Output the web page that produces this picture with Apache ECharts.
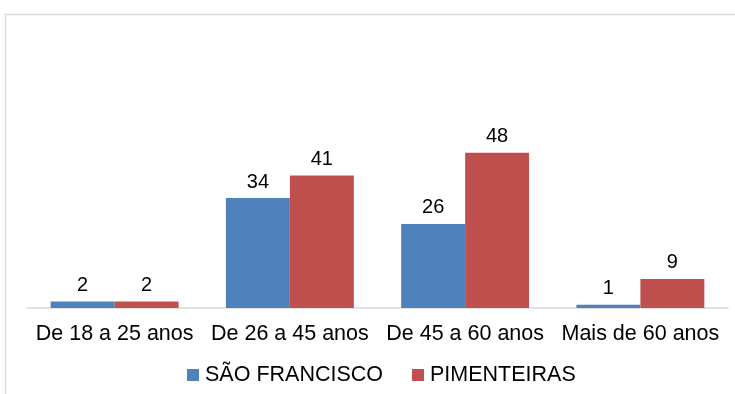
<!DOCTYPE html>
<html>
<head>
<meta charset="utf-8">
<script src="https://cdn.jsdelivr.net/npm/echarts@6/dist/echarts.min.js"></script>
<style>
  html, body { margin: 0; padding: 0; background: #fff; }
  #chart { width: 735px; height: 394px; }
</style>
</head>
<body>
<div id="chart"></div>
<script>
var categories = ['De 18 a 25 anos', 'De 26 a 45 anos', 'De 45 a 60 anos', 'Mais de 60 anos'];
var saoFrancisco = [2, 34, 26, 1];
var pimenteiras = [2, 41, 48, 9];

var myChart = echarts.init(document.getElementById('chart'));

var labelStyle = {
  show: true,
  position: 'top',
  distance: 6,
  color: '#000',
  fontSize: 20,
  fontFamily: 'Liberation Sans, Arial'
};

var option = {
  animation: false,
  // moldura cinza do gráfico
  graphic: [{
    type: 'rect',
    shape: { x: 5.5, y: 14.5, width: 800, height: 500 },
    style: { fill: 'none', stroke: '#d9d9d9', lineWidth: 1.5 },
    silent: true
  }],
  grid: {
    left: 27,
    right: 7,
    top: 114,
    bottom: 86
  },
  legend: {
    bottom: 3,
    left: 182,
    itemWidth: 12,
    itemHeight: 12,
    itemGap: 29,
    icon: 'rect',
    textStyle: { color: '#000', fontSize: 21.5, fontFamily: 'Liberation Sans, Arial', padding: [0, 0, 0, 1] },
    data: ['SÃO FRANCISCO', 'PIMENTEIRAS']
  },
  xAxis: {
    type: 'category',
    data: categories,
    axisTick: { show: false },
    axisLine: { lineStyle: { color: '#d9d9d9', width: 1.5 } },
    axisLabel: {
      interval: 0,
      color: '#000',
      fontSize: 21.5,
      margin: 15,
      fontFamily: 'Liberation Sans, Arial'
    }
  },
  yAxis: {
    type: 'value',
    min: 0,
    max: 60,
    show: false
  },
  series: [
    {
      name: 'SÃO FRANCISCO',
      type: 'bar',
      data: saoFrancisco,
      barGap: '0%',
      barCategoryGap: '27%',
      itemStyle: { color: '#4f81bd' },
      label: labelStyle
    },
    {
      name: 'PIMENTEIRAS',
      type: 'bar',
      data: pimenteiras,
      itemStyle: { color: '#c0504d' },
      label: labelStyle
    }
  ]
};

myChart.setOption(option);
</script>
</body>
</html>
